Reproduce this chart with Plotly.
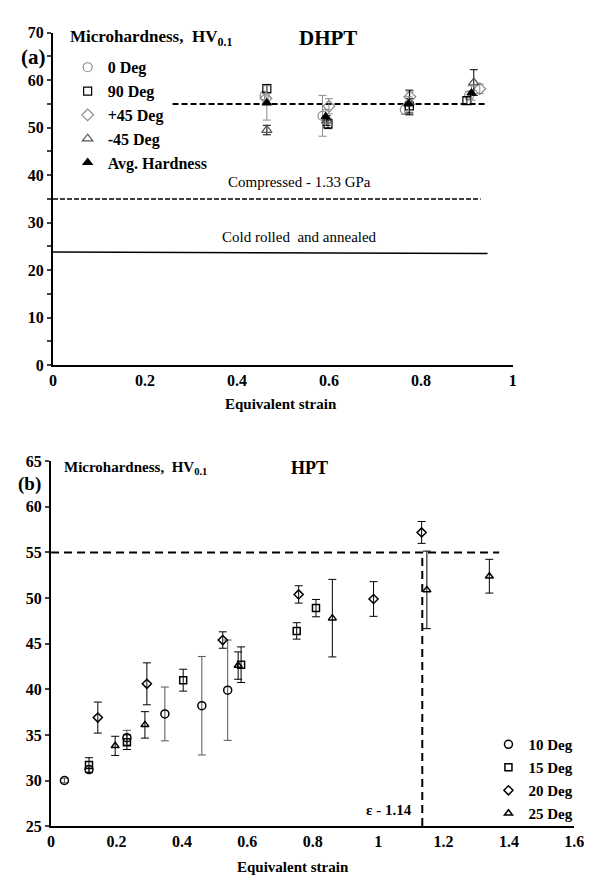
import plotly.graph_objects as go

W, H = 592, 884
FONT = "Liberation Serif, Times New Roman, serif"

# ---------------- (a) DHPT data ----------------
a_series = ["0 Deg", "90 Deg", "+45 Deg", "-45 Deg", "Avg. Hardness"]
a_x_0 = [0.460, 0.586, 0.765, 0.905]
a_y_0 = [56.7, 52.5, 53.8, 56.8]
a_e_0 = [0.8, 4.3, 1.0, 0.8]
a_x_90 = [0.465, 0.598, 0.775, 0.900]
a_y_90 = [58.2, 50.8, 54.6, 55.7]
a_e_90 = [0.9, 1.0, 1.5, 0.8]
a_x_p45 = [0.463, 0.600, 0.776, 0.928]
a_y_p45 = [56.2, 54.5, 56.5, 58.2]
a_e_p45 = [1.0, 1.6, 1.0, 1.0]
a_x_m45 = [0.465, 0.595, 0.775, 0.915]
a_y_m45 = [49.5, 51.5, 55.3, 59.5]
a_e_m45 = [1.0, 1.0, 2.6, 2.7]
a_x_avg = [0.465, 0.593, 0.773, 0.910]
a_y_avg = [55.2, 52.3, 55.0, 57.3]
a_e_avg = [3.6, 1.5, 1.5, 1.5]

a_ref55_x = [0.26, 0.94]
a_ref55_y = [55, 55]
a_comp_x = [0.0, 0.93]
a_comp_y = [35, 35]
a_cold_x = [0.0, 0.945]
a_cold_y = [23.8, 23.5]

a_xticks = [0, 0.2, 0.4, 0.6, 0.8, 1]
a_xticktext = ["0", "0.2", "0.4", "0.6", "0.8", "1"]
a_yticks = [0, 10, 20, 30, 40, 50, 60, 70]
a_yticktext = ["0", "10", "20", "30", "40", "50", "60", "70"]

# ---------------- (b) HPT data ----------------
b_series = ["10 Deg", "15 Deg", "20 Deg", "25 Deg"]
b_x_10 = [0.041, 0.116, 0.232, 0.348, 0.461, 0.540]
b_y_10 = [30.0, 31.2, 34.7, 37.3, 38.2, 39.9]
b_e_10 = [0.25, 0.3, 0.8, 2.95, 5.4, 5.5]
b_x_15 = [0.116, 0.232, 0.404, 0.581, 0.751, 0.810]
b_y_15 = [31.7, 34.2, 41.0, 42.7, 46.4, 48.9]
b_e_15 = [0.8, 0.8, 1.2, 1.95, 0.9, 0.95]
b_x_20 = [0.143, 0.293, 0.525, 0.757, 0.986, 1.133]
b_y_20 = [36.9, 40.6, 45.4, 50.4, 49.9, 57.2]
b_e_20 = [1.7, 2.3, 0.9, 0.95, 1.9, 1.2]
b_x_25 = [0.196, 0.287, 0.572, 0.860, 1.149, 1.340]
b_y_25 = [33.8, 36.1, 42.6, 47.8, 50.9, 52.4]
b_e_25 = [1.05, 1.45, 1.5, 4.25, 4.25, 1.85]

b_h55_x = [0.0, 1.37]
b_h55_y = [55, 55]
b_v_x = [1.135, 1.135]
b_v_y = [25, 55]

b_xticks = [0, 0.2, 0.4, 0.6, 0.8, 1.0, 1.2, 1.4, 1.6]
b_xticktext = ["0", "0.2", "0.4", "0.6", "0.8", "1", "1.2", "1.4", "1.6"]
b_yticks = [25, 30, 35, 40, 45, 50, 55, 60, 65]
b_yticktext = ["25", "30", "35", "40", "45", "50", "55", "60", "65"]

GRAY = "#8c8c8c"
DGRAY = "#555555"


def bold(lst):
    return ["<b>%s</b>" % t for t in lst]


fig = go.Figure()


def err(arr, color, w=1.0, cap=4):
    return dict(type="data", array=arr, visible=True, color=color, thickness=w, width=cap)


# ----- (a) reference lines -----
fig.add_trace(go.Scatter(x=a_ref55_x, y=a_ref55_y, mode="lines", showlegend=False,
                         line=dict(color="black", width=2, dash="6px,3px"), xaxis="x", yaxis="y"))
fig.add_trace(go.Scatter(x=a_comp_x, y=a_comp_y, mode="lines", showlegend=False,
                         line=dict(color="black", width=1.5, dash="5px,2px"), xaxis="x", yaxis="y"))
fig.add_trace(go.Scatter(x=a_cold_x, y=a_cold_y, mode="lines", showlegend=False,
                         line=dict(color="black", width=1.5), xaxis="x", yaxis="y"))

# ----- (a) series -----
a_specs = [
    (a_series[0], a_x_0, a_y_0, a_e_0, "circle-open", GRAY, 9, GRAY),
    (a_series[1], a_x_90, a_y_90, a_e_90, "square-open", "black", 8, "black"),
    (a_series[2], a_x_p45, a_y_p45, a_e_p45, "diamond-open", GRAY, 9, GRAY),
    (a_series[3], a_x_m45, a_y_m45, a_e_m45, "triangle-up-open", DGRAY, 9, "black"),
    (a_series[4], a_x_avg, a_y_avg, a_e_avg, "triangle-up", "black", 8, GRAY),
]
for i, (name, xs, ys, es, sym, col, sz, ecol) in enumerate(a_specs):
    fig.add_trace(go.Scatter(
        x=xs, y=ys, mode="markers", name="<b>%s</b>" % name, legend="legend",
        legendgroup="a%d" % i,
        marker=dict(symbol=sym, size=sz, color=col, line=dict(color=col, width=1.2)),
        error_y=err(es, ecol), xaxis="x", yaxis="y"))

# ----- (b) reference lines -----
fig.add_trace(go.Scatter(x=b_h55_x, y=b_h55_y, mode="lines", showlegend=False,
                         line=dict(color="black", width=2, dash="8px,5px"), xaxis="x2", yaxis="y2"))
fig.add_trace(go.Scatter(x=b_v_x, y=b_v_y, mode="lines", showlegend=False,
                         line=dict(color="black", width=2, dash="8px,5px"), xaxis="x2", yaxis="y2"))

b_specs = [
    (b_series[0], b_x_10, b_y_10, b_e_10, "circle-open", 8, "#555555"),
    (b_series[1], b_x_15, b_y_15, b_e_15, "square-open", 7, "black"),
    (b_series[2], b_x_20, b_y_20, b_e_20, "diamond-open", 7, "black"),
    (b_series[3], b_x_25, b_y_25, b_e_25, "triangle-up-open", 7, "black"),
]
for i, (name, xs, ys, es, sym, sz, ecol) in enumerate(b_specs):
    fig.add_trace(go.Scatter(
        x=xs, y=ys, mode="markers", name="<b>%s</b>" % name, legend="legend2",
        legendgroup="b%d" % i,
        marker=dict(symbol=sym, size=sz, color="black", line=dict(color="black", width=1.5)),
        error_y=err(es, ecol), xaxis="x2", yaxis="y2"))


def px_x(p):
    return p / W


def px_y(p):
    return 1 - p / H


tick_font = dict(family=FONT, size=16, color="black")
axis_common = dict(showgrid=False, zeroline=False, showline=True, linecolor="black",
                   linewidth=2, tickfont=tick_font, fixedrange=True)

fig.update_layout(
    width=W, height=H, margin=dict(l=0, r=0, t=0, b=0),
    paper_bgcolor="white", plot_bgcolor="white",
    font=dict(family=FONT, color="black"),
    xaxis=dict(domain=[px_x(42), px_x(513)], range=[0, 1], anchor="y",
               tickmode="array", tickvals=a_xticks, ticktext=bold(a_xticktext), ticks="",
               **axis_common),
    yaxis=dict(domain=[px_y(356), px_y(17)], range=[0, 70], anchor="x",
               tickmode="array", tickvals=a_yticks, ticktext=bold(a_yticktext),
               ticks="outside", ticklen=4, tickwidth=2,
               minor=dict(dtick=5, ticks="outside", ticklen=4, tickwidth=2, tick0=0),
               **axis_common),
    xaxis2=dict(domain=[px_x(40), px_x(576)], range=[0, 1.6], anchor="y2",
                tickmode="array", tickvals=b_xticks, ticktext=bold(b_xticktext), ticks="",
                **axis_common),
    yaxis2=dict(domain=[px_y(826), px_y(454)], range=[25, 65], anchor="x2",
                tickmode="array", tickvals=b_yticks, ticktext=bold(b_yticktext),
                ticks="outside", ticklen=4, tickwidth=2,
                **axis_common),
    legend=dict(x=px_x(57), y=px_y(35), xanchor="left", yanchor="top",
                bgcolor="rgba(0,0,0,0)", tracegroupgap=0,
                font=dict(family=FONT, size=16, color="black")),
    legend2=dict(x=px_x(488), y=px_y(726), xanchor="left", yanchor="top",
                 bgcolor="rgba(0,0,0,0)", tracegroupgap=0.5,
                 font=dict(family=FONT, size=15, color="black")),
)

ann = []
# panel (a)
ann.append(dict(text="<b>Microhardness,  HV<sub>0.1</sub></b>", x=0.032, y=68.8, xref="x",
                yref="y", xanchor="left", yanchor="middle", showarrow=False,
                font=dict(family=FONT, size=17)))
ann.append(dict(text="<b>DHPT</b>", x=0.597, y=68.8, xref="x", yref="y", xanchor="center",
                yanchor="middle", showarrow=False, font=dict(family=FONT, size=21)))
ann.append(dict(text="<b>(a)</b>", x=px_x(22), y=px_y(42), xref="paper", yref="paper",
                xanchor="center", yanchor="middle", showarrow=False,
                font=dict(family=FONT, size=21)))
ann.append(dict(text="Compressed - 1.33 GPa", x=0.535, y=38.6, xref="x", yref="y",
                xanchor="center", yanchor="middle", showarrow=False,
                font=dict(family=FONT, size=15)))
ann.append(dict(text="Cold rolled  and annealed", x=0.535, y=26.9, xref="x", yref="y",
                xanchor="center", yanchor="middle", showarrow=False,
                font=dict(family=FONT, size=15)))
ann.append(dict(text="<b>Equivalent strain</b>", x=px_x(276), y=px_y(396), xref="paper",
                yref="paper", xanchor="center", yanchor="middle", showarrow=False,
                font=dict(family=FONT, size=15)))
# panel (b)
ann.append(dict(text="<b>Microhardness,  HV<sub>0.1</sub></b>", x=0.033, y=64.3, xref="x2",
                yref="y2", xanchor="left", yanchor="middle", showarrow=False,
                font=dict(family=FONT, size=15)))
ann.append(dict(text="<b>HPT</b>", x=0.79, y=64.3, xref="x2", yref="y2", xanchor="center",
                yanchor="middle", showarrow=False, font=dict(family=FONT, size=18)))
ann.append(dict(text="<b>(b)</b>", x=px_x(18), y=px_y(477), xref="paper", yref="paper",
                xanchor="center", yanchor="middle", showarrow=False,
                font=dict(family=FONT, size=19)))
ann.append(dict(text="<b>ε - 1.14</b>", x=1.11, y=26.8, xref="x2", yref="y2", xanchor="right",
                yanchor="middle", showarrow=False, font=dict(family=FONT, size=15)))
ann.append(dict(text="<b>Equivalent strain</b>", x=px_x(288), y=px_y(868), xref="paper",
                yref="paper", xanchor="center", yanchor="middle", showarrow=False,
                font=dict(family=FONT, size=15)))
fig.update_layout(annotations=ann)

fig.write_html("out.html")
